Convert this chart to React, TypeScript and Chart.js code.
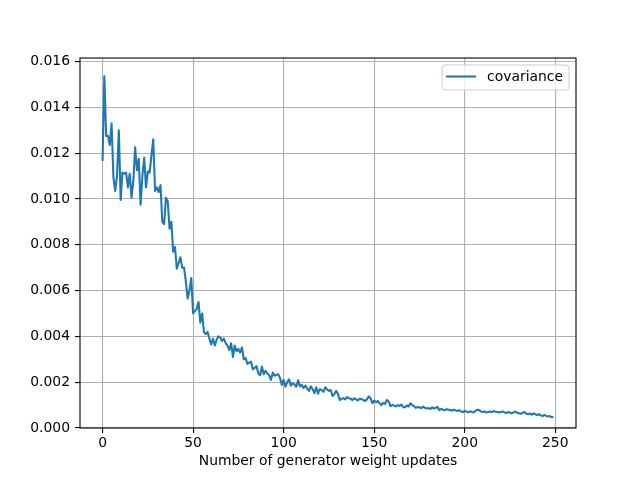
import Chart from 'chart.js/auto';
import { useEffect, useRef } from 'react';

// covariance per generator weight update
const covariance = [
  0.01165, 0.01535, 0.01275, 0.01275, 0.01235, 0.01330, 0.01095, 0.01035, 0.01100, 0.01300,
  0.00995, 0.01115, 0.01110, 0.01115, 0.01050, 0.01110, 0.01005, 0.01080, 0.01225, 0.01125,
  0.01175, 0.00975, 0.01100, 0.01180, 0.01050, 0.01120, 0.01115, 0.01190, 0.01260, 0.01035,
  0.01050, 0.01030, 0.01060, 0.00900, 0.00890, 0.01005, 0.00990, 0.00870, 0.00900, 0.00770,
  0.00790, 0.00695, 0.00720, 0.00745, 0.00700, 0.00700, 0.00640, 0.00565, 0.00600, 0.00655,
  0.00500, 0.00510, 0.00520, 0.00550, 0.00460, 0.00500, 0.00420, 0.00410, 0.00420, 0.00390,
  0.00365, 0.00390, 0.00360, 0.00385, 0.00400, 0.00395, 0.00380, 0.00390, 0.00370, 0.00360,
  0.00340, 0.00370, 0.00310, 0.00360, 0.00335, 0.00345, 0.00330, 0.00352, 0.00300, 0.00305,
  0.00280, 0.00285, 0.00290, 0.00256, 0.00262, 0.00270, 0.00240, 0.00230, 0.00268, 0.00235,
  0.00250, 0.00238, 0.00230, 0.00210, 0.00242, 0.00228, 0.00232, 0.00235, 0.00218, 0.00188,
  0.00210, 0.00180, 0.00200, 0.00212, 0.00185, 0.00195, 0.00190, 0.00180, 0.00208, 0.00182,
  0.00188, 0.00175, 0.00185, 0.00172, 0.00162, 0.00182, 0.00170, 0.00152, 0.00178, 0.00150,
  0.00170, 0.00165, 0.00158, 0.00178, 0.00168, 0.00162, 0.00166, 0.00140, 0.00148, 0.00162,
  0.00148, 0.00122, 0.00128, 0.00130, 0.00125, 0.00135, 0.00130, 0.00128, 0.00122, 0.00130,
  0.00125, 0.00120, 0.00128, 0.00126, 0.00122, 0.00118, 0.00125, 0.00138, 0.00130, 0.00108,
  0.00120, 0.00112, 0.00118, 0.00108, 0.00100, 0.00110, 0.00105, 0.00122, 0.00115, 0.00095,
  0.00100, 0.00098, 0.00094, 0.00100, 0.00096, 0.00102, 0.00092, 0.00090, 0.00098, 0.00094,
  0.00108, 0.00100, 0.00095, 0.00088, 0.00092, 0.00090, 0.00086, 0.00094, 0.00088, 0.00085,
  0.00087, 0.00083, 0.00090, 0.00085, 0.00088, 0.00092, 0.00078, 0.00084, 0.00080, 0.00078,
  0.00082, 0.00080, 0.00078, 0.00076, 0.00080, 0.00077, 0.00074, 0.00078, 0.00072, 0.00070,
  0.00074, 0.00072, 0.00068, 0.00073, 0.00070, 0.00068, 0.00075, 0.00080, 0.00078, 0.00072,
  0.00070, 0.00072, 0.00068, 0.00070, 0.00072, 0.00069, 0.00074, 0.00071, 0.00070, 0.00068,
  0.00070, 0.00072, 0.00068, 0.00065, 0.00070, 0.00067, 0.00064, 0.00068, 0.00072, 0.00066,
  0.00064, 0.00062, 0.00066, 0.00070, 0.00062, 0.00060, 0.00063, 0.00058, 0.00064, 0.00060,
  0.00056, 0.00060, 0.00055, 0.00052, 0.00057, 0.00053, 0.00050, 0.00052, 0.00047, 0.00048
];

// update index of each sample
const updates = covariance.map((_, i) => i);

const FONT = 'DejaVu Sans';
const FONT_SIZE = 13.9;
const LINE_COLOR = '#1f77b4';

// matplotlib-style frame + in-axes legend
const framePlugin = {
  id: 'frame',
  afterDraw(chart: Chart) {
    const { ctx, chartArea } = chart;
    const { left, top, right, bottom } = chartArea;
    ctx.save();
    ctx.strokeStyle = '#000';
    ctx.lineWidth = 1.1;
    ctx.strokeRect(left, top, right - left, bottom - top);

    // legend
    ctx.font = `${FONT_SIZE}px "${FONT}"`;
    const label = 'covariance';
    const textW = ctx.measureText(label).width;
    const boxW = 4 + 30 + 11 + textW + 6;
    const boxH = 25;
    const bx = right - 7 - boxW;
    const by = top + 7;
    ctx.fillStyle = 'rgba(255,255,255,0.8)';
    ctx.strokeStyle = '#cccccc';
    ctx.lineWidth = 1;
    ctx.beginPath();
    ctx.roundRect(bx, by, boxW, boxH, 3);
    ctx.fill();
    ctx.stroke();

    ctx.strokeStyle = LINE_COLOR;
    ctx.lineWidth = 2.08;
    ctx.beginPath();
    ctx.moveTo(bx + 4, by + 11.5);
    ctx.lineTo(bx + 34, by + 11.5);
    ctx.stroke();

    ctx.fillStyle = '#000';
    ctx.textBaseline = 'middle';
    ctx.textAlign = 'left';
    ctx.fillText(label, bx + 45, by + 12.5);
    ctx.restore();
  }
};

const App: React.FC = () => {
  const chartRef = useRef<HTMLCanvasElement>(null);
  const chartInstanceRef = useRef<Chart | null>(null);

  useEffect(() => {
    document.body.style.margin = '0';
    const canvas = chartRef.current;
    if (!canvas) return;
    const ctx = canvas.getContext('2d');
    if (!ctx) return;

    if (chartInstanceRef.current) {
      chartInstanceRef.current.destroy();
    }

    Chart.defaults.font.family = FONT;
    Chart.defaults.font.size = FONT_SIZE;
    Chart.defaults.color = '#000';

    chartInstanceRef.current = new Chart(ctx, {
      type: 'line',
      data: {
        labels: updates,
        datasets: [
          {
            label: 'covariance',
            data: covariance,
            borderColor: LINE_COLOR,
            backgroundColor: LINE_COLOR,
            borderWidth: 2.08,
            borderJoinStyle: 'round',
            pointRadius: 0,
            tension: 0,
            fill: false
          }
        ]
      },
      options: {
        animation: false,
        responsive: true,
        maintainAspectRatio: false,
        layout: {
          padding: { top: 58, right: 64, left: 0, bottom: 0 }
        },
        plugins: {
          legend: { display: false },
          tooltip: { enabled: false }
        },
        scales: {
          x: {
            type: 'linear',
            min: -12.45,
            max: 261.45,
            afterFit: (scale) => {
              scale.height = 52;
            },
            ticks: {
              stepSize: 50,
              includeBounds: false,
              maxRotation: 0,
              padding: 2,
              color: '#000'
            },
            grid: {
              color: '#b0b0b0',
              lineWidth: 1.1,
              tickColor: '#000',
              tickLength: 5
            },
            border: { display: false },
            title: {
              display: true,
              text: 'Number of generator weight updates',
              color: '#000',
              padding: { top: 0, bottom: 10 }
            }
          },
          y: {
            min: 0,
            max: 0.01615,
            afterFit: (scale) => {
              scale.width = 80;
            },
            ticks: {
              stepSize: 0.002,
              includeBounds: false,
              padding: 5,
              color: '#000',
              callback: (v) => Number(v).toFixed(3)
            },
            grid: {
              color: '#b0b0b0',
              lineWidth: 1.1,
              tickColor: '#000',
              tickLength: 5
            },
            border: { display: false }
          }
        }
      },
      plugins: [framePlugin]
    });

    return () => {
      if (chartInstanceRef.current) {
        chartInstanceRef.current.destroy();
        chartInstanceRef.current = null;
      }
    };
  }, []);

  return (
    <div style={{ width: '640px', height: '480px', background: '#fff' }}>
      <canvas ref={chartRef}></canvas>
    </div>
  );
};

export default App;
